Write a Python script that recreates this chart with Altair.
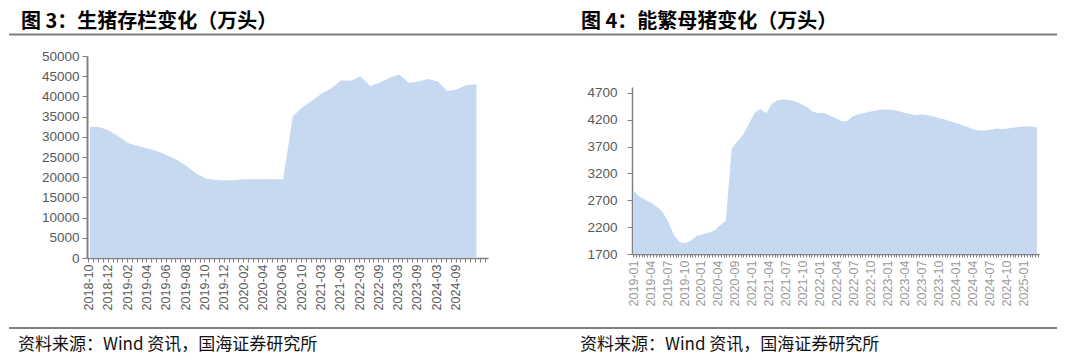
import json
import altair as alt
import pandas as pd

# ---------------- data ----------------
hog_values = [32500, 32400, 31500, 30000, 28400, 27700, 27100, 26400, 25400, 24300,
              22800, 20900, 19700, 19300, 19200, 19300, 19500, 19500, 19500, 19500,
              19500, 35000, 37400, 39000, 40700, 42000, 44000, 43900, 45000, 42600,
              43400, 44600, 45400, 43400, 43700, 44300, 43700, 41300, 41800, 42800,
              43000]
hog_labels = ["2018-10", "2018-12", "2019-02", "2019-04", "2019-06", "2019-08", "2019-10",
              "2019-12", "2020-02", "2020-04", "2020-06", "2020-10", "2021-03", "2021-09",
              "2022-03", "2022-09", "2023-03", "2023-09", "2024-03", "2024-09"]

sow_values = [2880, 2770, 2710, 2660, 2580, 2480, 2300, 2050, 1920, 1905,
              1950, 2040, 2070, 2095, 2136, 2230, 2330, 3650, 3800, 3920,
              4120, 4330, 4400, 4320, 4500, 4565, 4575, 4568, 4545, 4500,
              4440, 4355, 4325, 4325, 4280, 4234, 4175, 4172, 4260, 4305,
              4325, 4350, 4372, 4385, 4390, 4385, 4360, 4330, 4305, 4284,
              4300, 4290, 4262, 4235, 4207, 4170, 4137, 4100, 4065, 4020,
              4000, 3999, 4020, 4036, 4030, 4035, 4055, 4068, 4079, 4075,
              4062]
sow_labels = ["2019-01", "2019-04", "2019-07", "2019-10", "2020-01", "2020-04", "2020-09",
              "2021-01", "2021-04", "2021-07", "2021-10", "2022-01", "2022-04", "2022-07",
              "2022-10", "2023-01", "2023-04", "2023-07", "2023-10", "2024-01", "2024-04",
              "2024-07", "2024-10", "2025-01"]

title_left = "图 3：生猪存栏变化（万头）"
title_right = "图 4：能繁母猪变化（万头）"
source_text = "资料来源：Wind 资讯，国海证券研究所"

# ---------------- styles ----------------
FILL = "#C6D9F0"
AXIS = "#808080"
LABEL = "#595959"
LATIN = "Liberation Sans"
CJK = "Noto Sans CJK SC"

one = pd.DataFrame({"a": [0]})


def tick_setup(labels, first, label_step, per_label, dmin, dmax):
    """Tick positions (in index units) with a text label on every per_label-th tick."""
    step = label_step / per_label
    values, texts = [], []
    m = -per_label
    while True:
        v = round(first + step * m, 4)
        if v > dmax:
            break
        if v >= dmin:
            values.append(v)
            k = m // per_label
            texts.append(labels[k] if (m % per_label == 0 and 0 <= k < len(labels)) else "")
        m += 1
    expr = f"{json.dumps(texts)}[indexof({json.dumps(values)}, datum.value)] || ''"
    return values, expr


def decorations(title, x_title, x_left, x_right, x_src, anchor=False):
    layers = []
    if anchor:
        # invisible (white) anchors fixing the canvas extent
        layers.append(alt.Chart(one).mark_rule(color="#ffffff", strokeWidth=1).encode(
            x=alt.value(-78), x2=alt.value(-77), y=alt.value(-47), y2=alt.value(-46)))
        layers.append(alt.Chart(one).mark_rule(color="#ffffff", strokeWidth=1).encode(
            x=alt.value(-78), x2=alt.value(-77), y=alt.value(302), y2=alt.value(303)))
    layers.append(alt.Chart(one).mark_text(
        text=title, align="left", baseline="alphabetic", font=CJK, fontSize=20,
        fontWeight="bold", color="#000000").encode(x=alt.value(x_title), y=alt.value(-28)))
    layers.append(alt.Chart(one).mark_rule(color="#7f7f7f", strokeWidth=2).encode(
        x=alt.value(x_left), x2=alt.value(x_right), y=alt.value(-21.5)))
    layers.append(alt.Chart(one).mark_rule(color="#7f7f7f", strokeWidth=2).encode(
        x=alt.value(x_left), x2=alt.value(x_right), y=alt.value(272)))
    layers.append(alt.Chart(one).mark_text(
        text=source_text, align="left", baseline="middle", font=CJK, fontSize=17,
        color="#111111").encode(x=alt.value(x_src), y=alt.value(289)))
    return layers


# ---------------- left panel ----------------
df_hog = pd.DataFrame({"idx": list(range(len(hog_values))), "v": hog_values})
hog_dom = [-0.3, 41.2]
hog_ticks, hog_expr = tick_setup(hog_labels, -0.15, 2, 4, hog_dom[0], hog_dom[1])

hog_area = alt.Chart(df_hog).mark_area(color=FILL, opacity=1).encode(
    x=alt.X("idx:Q",
            scale=alt.Scale(domain=hog_dom, nice=False, zero=False),
            axis=alt.Axis(values=hog_ticks, labelExpr=hog_expr,
                          labelAngle=270, labelOverlap=False, labelFlush=False, title=None,
                          tickSize=4, tickColor=AXIS, domainColor=AXIS, domainWidth=1.5,
                          labelColor=LABEL, labelFont=LATIN, labelFontSize=12.5,
                          labelPadding=2, grid=False)),
    y=alt.Y("v:Q",
            scale=alt.Scale(domain=[0, 50000], nice=False),
            axis=alt.Axis(values=list(range(0, 50001, 5000)), format="d", title=None,
                          tickSize=5, tickColor=AXIS, domainColor=AXIS, domainWidth=2,
                          labelColor=LABEL, labelFont=LATIN, labelFontSize=13.5,
                          labelPadding=3, grid=False)),
)

left = alt.layer(hog_area, *decorations(title_left, -66, -78, 454, -69, anchor=True)).properties(
    width=401, height=202)

# ---------------- right panel ----------------
df_sow = pd.DataFrame({"idx": list(range(len(sow_values))), "v": sow_values})
sow_dom = [-0.295, 70.365]
sow_ticks, sow_expr = tick_setup(sow_labels, -0.12, 2.951, 6, sow_dom[0], sow_dom[1])

sow_area = alt.Chart(df_sow).mark_area(color=FILL, opacity=1).encode(
    x=alt.X("idx:Q",
            scale=alt.Scale(domain=sow_dom, nice=False, zero=False),
            axis=alt.Axis(values=sow_ticks, labelExpr=sow_expr,
                          labelAngle=270, labelOverlap=False, labelFlush=False, title=None,
                          tickSize=3, tickColor=AXIS, domainColor=AXIS, domainWidth=1.5,
                          labelColor="#9a9a9a", labelFont=LATIN, labelFontSize=12.5,
                          labelPadding=3, grid=False)),
    y=alt.Y("v:Q",
            scale=alt.Scale(domain=[1700, 4810], range=[198, 31], nice=False, zero=False),
            axis=alt.Axis(values=list(range(1700, 4701, 500)), format="d", title=None,
                          tickSize=5, tickColor=AXIS, domainColor=AXIS, domainWidth=1.5,
                          labelColor=LABEL, labelFont=LATIN, labelFontSize=13.5,
                          labelPadding=10, grid=False)),
    y2=alt.datum(1700),
)

right = alt.layer(sow_area, *decorations(title_right, -51, -91, 425, -52)).properties(
    width=407, height=198)

chart = alt.hconcat(left, right, spacing=144, bounds="flush").properties(
    padding=0, background="white"
).configure_view(strokeWidth=0)

chart.save("out.html", embed_options={"renderer": "svg", "actions": False})
